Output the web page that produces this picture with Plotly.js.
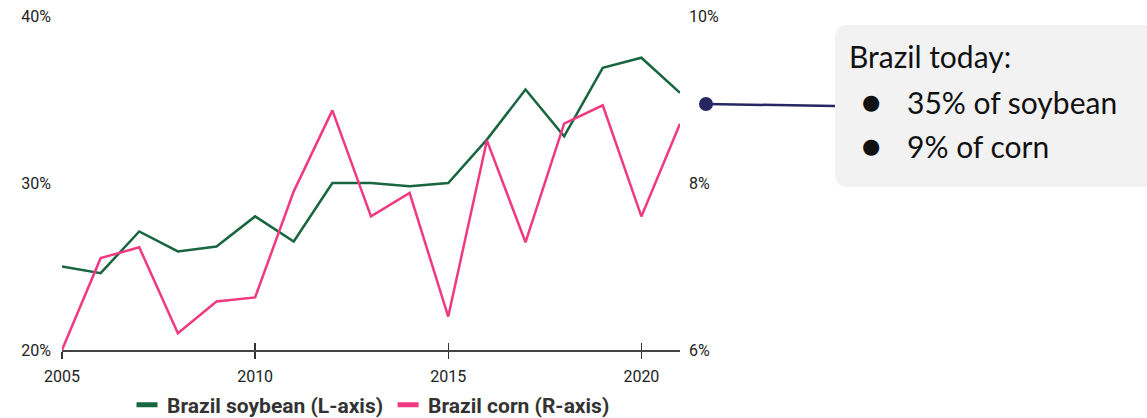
<!DOCTYPE html>
<html>
<head>
<meta charset="utf-8">
<script src="https://cdn.plot.ly/plotly-3.0.1.min.js"></script>
<style>html,body{margin:0;padding:0;background:#fff;}#chart{width:1147px;height:418px;}</style>
</head>
<body>
<div id="chart"></div>
<script>
const years = [2005,2006,2007,2008,2009,2010,2011,2012,2013,2014,2015,2016,2017,2018,2019,2020,2021];
const soybeanShare = [25.0,24.6,27.1,25.9,26.2,28.0,26.5,30.0,30.0,29.8,30.0,32.6,35.6,32.8,36.9,37.5,35.4];
const cornShare = [6.0,7.1,7.23,6.2,6.58,6.63,7.9,8.87,7.6,7.88,6.4,8.51,7.29,8.71,8.93,7.6,8.71];
const leftTicks = [20,30,40];
const rightTicks = [6,8,10];
const xTicks = [2005,2010,2015,2020];
const seriesNames = ['Brazil soybean (L-axis)','Brazil corn (R-axis)'];
const calloutLines = ['Brazil today:','35% of soybean','9% of corn'];

const green = '#17663f';
const pink = '#ef3a82';
const navy = '#272663';

const L = 62, R = 680, T = 16, B = 350;
const px = v => (v - L) / (R - L);
const py = v => (B - v) / (B - T);

const traces = [
  {x: years, y: soybeanShare, mode: 'lines', line: {color: green, width: 2.5}, showlegend: false, yaxis: 'y', hoverinfo: 'skip'},
  {x: years, y: cornShare, mode: 'lines', line: {color: pink, width: 2.5}, showlegend: false, yaxis: 'y2', hoverinfo: 'skip'},
  {x: [null], y: [null], mode: 'markers', name: seriesNames[0], marker: {symbol: 'line-ew-open', size: 15, color: green, line: {color: green, width: 5}}, showlegend: true},
  {x: [null], y: [null], mode: 'markers', name: seriesNames[1], marker: {symbol: 'line-ew-open', size: 15, color: pink, line: {color: pink, width: 5}}, showlegend: true, yaxis: 'y2'},
  {x: [null], y: [null], xaxis: 'x2', yaxis: 'y', mode: 'lines', showlegend: false, hoverinfo: 'skip'}
];

const bx0 = px(835), bx1 = px(1165), by0 = py(187), by1 = py(25);
const rx = 13/(R-L), ry = 13/(B-T);
const boxPath = `M${bx0+rx},${by1} L${bx1},${by1} L${bx1},${by0} L${bx0+rx},${by0} Q${bx0},${by0} ${bx0},${by0+ry} L${bx0},${by1-ry} Q${bx0},${by1} ${bx0+rx},${by1} Z`;

const calloutFont = {family: 'Lato, "DejaVu Sans", sans-serif', size: 30, color: '#111'};
const tickFont = {family: 'Roboto, sans-serif', size: 16, color: '#222'};

const layout = {
  width: 1147, height: 418,
  margin: {l: L, r: 1147 - R, t: T, b: 418 - B, autoexpand: false},
  paper_bgcolor: '#fff', plot_bgcolor: '#fff',
  font: {family: 'Roboto, sans-serif', color: '#222', size: 16},
  xaxis: {
    range: [2005, 2021], tickvals: xTicks, ticktext: xTicks.map(String),
    showgrid: false, zeroline: false, showline: true, linecolor: '#444', linewidth: 1.5,
    ticks: 'outside', ticklen: 7, tickwidth: 1.5, tickcolor: '#333', ticklabelstandoff: 4,
    tickfont: tickFont, fixedrange: true
  },
  xaxis2: {
    overlaying: 'x', matches: 'x', anchor: 'y', side: 'bottom',
    range: [2005, 2021], tickvals: xTicks, showticklabels: false,
    showgrid: false, zeroline: false, showline: false,
    ticks: 'inside', ticklen: 7, tickwidth: 1.5, tickcolor: '#333'
  },
  yaxis: {
    range: [20, 40], tickvals: leftTicks, ticktext: leftTicks.map(v => v + '%'),
    showgrid: false, zeroline: false, showline: false, ticks: '',
    ticklabelstandoff: 10,
    tickfont: tickFont, fixedrange: true
  },
  yaxis2: {
    range: [6, 10], tickvals: rightTicks, ticktext: rightTicks.map(v => v + '%'),
    overlaying: 'y', side: 'right', anchor: 'x',
    showgrid: false, zeroline: false, showline: false, ticks: '',
    ticklabelstandoff: 8,
    tickfont: tickFont, fixedrange: true
  },
  legend: {
    orientation: 'h', x: 0.5, xanchor: 'center', y: -0.165, yanchor: 'middle',
    font: {family: 'Roboto, sans-serif', size: 21, color: '#333', weight: 'bold'},
    itemclick: false, itemdoubleclick: false
  },
  shapes: [
    {type: 'path', xref: 'paper', yref: 'paper', path: boxPath, fillcolor: '#f2f2f2', line: {width: 0}, layer: 'below'},
    {type: 'line', xref: 'paper', yref: 'paper', x0: px(706), y0: py(104), x1: px(835), y1: py(106), line: {color: navy, width: 2.5}},
    {type: 'circle', xref: 'paper', yref: 'paper', x0: px(699), x1: px(713), y0: py(111), y1: py(97), fillcolor: navy, line: {width: 0}}
  ],
  annotations: [
    {xref: 'paper', yref: 'paper', x: px(847), y: py(56), xanchor: 'left', yanchor: 'middle', text: calloutLines[0], showarrow: false, font: calloutFont},
    {xref: 'paper', yref: 'paper', x: px(860), y: py(102), xanchor: 'left', yanchor: 'middle', text: '●', showarrow: false, font: {family: 'DejaVu Sans', size: 21, color: '#111'}},
    {xref: 'paper', yref: 'paper', x: px(905), y: py(102), xanchor: 'left', yanchor: 'middle', text: calloutLines[1], showarrow: false, font: calloutFont},
    {xref: 'paper', yref: 'paper', x: px(860), y: py(146), xanchor: 'left', yanchor: 'middle', text: '●', showarrow: false, font: {family: 'DejaVu Sans', size: 21, color: '#111'}},
    {xref: 'paper', yref: 'paper', x: px(905), y: py(146), xanchor: 'left', yanchor: 'middle', text: calloutLines[2], showarrow: false, font: calloutFont}
  ],
  showlegend: true
};

Plotly.newPlot('chart', traces, layout, {staticPlot: true, displayModeBar: false});
</script>
</body>
</html>
